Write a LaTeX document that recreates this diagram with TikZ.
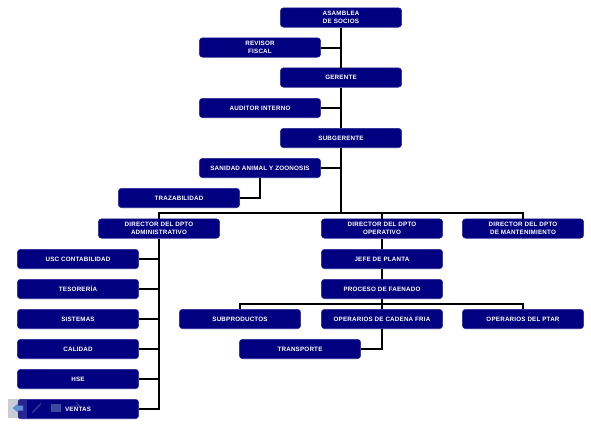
\documentclass[tikz,border=0pt]{standalone}
\usepackage{fontspec}
\setsansfont[LetterSpace=3]{Liberation Sans}
\definecolor{cargo}{HTML}{000080}
\definecolor{barra}{HTML}{C9CDD6}
\definecolor{flecha}{HTML}{5F8FD8}
\definecolor{icono}{HTML}{3A4A9E}
\tikzset{
  cargo/.style={draw=cargo!85!white, fill=cargo, rounded corners=2.5pt, minimum width=91pt, minimum height=14.6pt,
    inner sep=0pt, align=center, text=white, font=\sffamily\bfseries\fontsize{4.7}{5.9}\selectfont},
  linea/.style={line width=1.5pt, black}
}
\begin{document}
\begin{tikzpicture}[x=.75pt, y=-.75pt]
\useasboundingbox (0,0) rectangle (591,426);

\coordinate (busA) at (341,213);
\coordinate (busB) at (382,304);

\node[cargo] (asamblea) at (341,17.5){ASAMBLEA\\DE SOCIOS};
\node[cargo] (revisor) at (260,47.5){REVISOR\\FISCAL};
\node[cargo] (gerente) at (341,77.5){GERENTE};
\node[cargo] (auditor) at (260,108){AUDITOR INTERNO};
\node[cargo] (subgerente) at (341,138){SUBGERENTE};
\node[cargo] (sanidad) at (260,168){SANIDAD ANIMAL Y ZOONOSIS};
\node[cargo] (trazabilidad) at (179,198){TRAZABILIDAD};

\node[cargo] (dirAdm) at (159,228.5){DIRECTOR DEL DPTO\\ADMINISTRATIVO};
\node[cargo] (dirOpe) at (382,228.5){DIRECTOR DEL DPTO\\OPERATIVO};
\node[cargo] (dirMan) at (523,228.5){DIRECTOR DEL DPTO\\DE MANTENIMIENTO};

\node[cargo] (usc) at (78,259){USC CONTABILIDAD};
\node[cargo] (tesoreria) at (78,289){TESORERÍA};
\node[cargo] (sistemas) at (78,319){SISTEMAS};
\node[cargo] (calidad) at (78,349){CALIDAD};
\node[cargo] (hse) at (78,379){HSE};
\node[cargo] (ventas) at (78,409){VENTAS};

\node[cargo] (jefe) at (382,259){JEFE DE PLANTA};
\node[cargo] (proceso) at (382,289){PROCESO DE FAENADO};
\node[cargo] (subproductos) at (240,319){SUBPRODUCTOS};
\node[cargo] (cadena) at (382,319){OPERARIOS DE CADENA FRIA};
\node[cargo] (ptar) at (523,319){OPERARIOS DEL PTAR};
\node[cargo] (transporte) at (300,349){TRANSPORTE};

\draw[linea](asamblea.south)--(gerente.north);
\draw[linea](gerente.south)--(subgerente.north);
\draw[linea](subgerente.south)--(busA);
\draw[linea](revisor.east)--(revisor.east-|asamblea.south);
\draw[linea](auditor.east)--(auditor.east-|asamblea.south);
\draw[linea](sanidad.east)--(sanidad.east-|asamblea.south);
\draw[linea](sanidad.south)|-(trazabilidad.east);

\draw[linea](dirAdm.north)|-(busA);
\draw[linea](dirOpe.north)|-(busA);
\draw[linea](dirMan.north)|-(busA);

\draw[linea](dirAdm.south)|-(ventas.east);
\draw[linea](usc.east)--(usc.east-|dirAdm.south);
\draw[linea](tesoreria.east)--(tesoreria.east-|dirAdm.south);
\draw[linea](sistemas.east)--(sistemas.east-|dirAdm.south);
\draw[linea](calidad.east)--(calidad.east-|dirAdm.south);
\draw[linea](hse.east)--(hse.east-|dirAdm.south);

\draw[linea](dirOpe.south)--(jefe.north);
\draw[linea](jefe.south)--(proceso.north);
\draw[linea](proceso.south)--(cadena.north);
\draw[linea](subproductos.north)|-(busB);
\draw[linea](ptar.north)|-(busB);
\draw[linea](cadena.south)|-(transporte.east);

\fill[barra](8,399) rectangle (17.5,418);
\fill[white, opacity=.15](17.5,399.5) rectangle (27,418);
\fill[flecha](12.5,408)--(18,403.5)--(18,405.5)--(23,405.5)--(23,410.5)--(18,410.5)--(18,412.5)--cycle;
\draw[icono, line width=.8pt](32.5,412.5)--(41,403.5);
\fill[icono](51,404) rectangle (61,411.5);
\draw[icono, line width=.6pt](72,406)--(80,406)(76,402.5)--(80,406);
\end{tikzpicture}
\end{document}
